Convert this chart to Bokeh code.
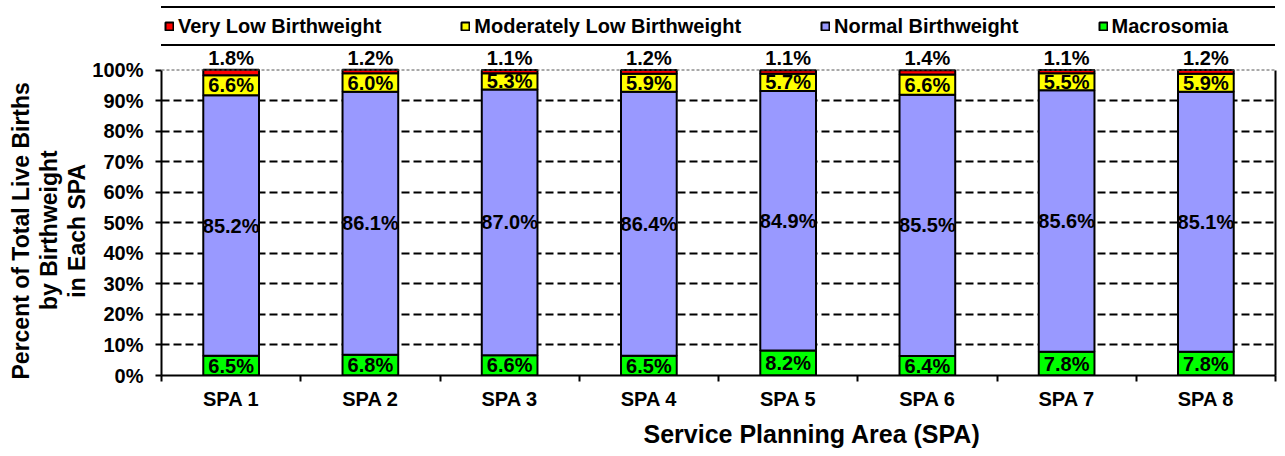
import math
from bokeh.plotting import figure
from bokeh.models import (Range1d, FixedTicker, Legend, LegendItem, LabelSet, Title,
                          ColumnDataSource, Span, LinearAxis)
from bokeh.core.properties import value
from bokeh.embed import file_html
from bokeh.resources import INLINE

# ---------------- data ----------------
spas = ["SPA 1", "SPA 2", "SPA 3", "SPA 4", "SPA 5", "SPA 6", "SPA 7", "SPA 8"]
very_low = [1.8, 1.2, 1.1, 1.2, 1.1, 1.4, 1.1, 1.2]
mod_low = [6.6, 6.0, 5.3, 5.9, 5.7, 6.6, 5.5, 5.9]
normal = [85.2, 86.1, 87.0, 86.4, 84.9, 85.5, 85.6, 85.1]
macro = [6.5, 6.8, 6.6, 6.5, 8.2, 6.4, 7.8, 7.8]
series_names = ["Very Low Birthweight", "Moderately Low Birthweight",
                "Normal Birthweight", "Macrosomia"]
series_colors = ["#FF0000", "#FFFF00", "#9999FF", "#00FF00"]
y_ticks = [0, 10, 20, 30, 40, 50, 60, 70, 80, 90, 100]
y_tick_labels = ["0%", "10%", "20%", "30%", "40%", "50%", "60%", "70%", "80%", "90%", "100%"]
x_title = "Service Planning Area (SPA)"
y_title_lines = ["Percent of Total Live Births", "by Birthweight", "in Each SPA"]

FONT = "Liberation Sans"

xs = [i + 0.5 for i in range(len(spas))]
fmt = lambda v: f"{v:.1f}%"
src = ColumnDataSource(dict(
    x=xs, spa=spas,
    macro=macro, normal=normal, mod_low=mod_low, very_low=very_low,
    y_macro=[m / 2 for m in macro],
    y_normal=[m + n / 2 for m, n in zip(macro, normal)],
    y_mod=[m + n + d / 2 for m, n, d in zip(macro, normal, mod_low)],
    y_top=[m + n + d + v for m, n, d, v in zip(macro, normal, mod_low, very_low)],
    t_macro=[fmt(v) for v in macro],
    t_normal=[fmt(v) for v in normal],
    t_mod=[fmt(v) for v in mod_low],
    t_vlow=[fmt(v) for v in very_low],
))

# plot area: 0% at y=375px, 100% at y=69.5px; the frame runs up to the top edge to hold the legend
p = figure(width=1285, height=456, x_range=Range1d(0, len(spas)), y_range=Range1d(0, 122.75),
           min_border_left=161, min_border_right=10, min_border_top=0, min_border_bottom=81,
           toolbar_location=None, output_backend="svg", outline_line_color=None,
           background_fill_color="white", border_fill_color="white")

p.xgrid.visible = False
p.ygrid.ticker = FixedTicker(ticks=y_ticks[1:-1])
p.ygrid.grid_line_color = "black"
p.ygrid.grid_line_width = 2
p.ygrid.grid_line_dash = "8 4"

rs = p.vbar_stack(["macro", "normal", "mod_low", "very_low"], x="x", width=0.4, source=src,
                  fill_color=[series_colors[3], series_colors[2], series_colors[1], series_colors[0]],
                  line_color="black", line_width=2)

p.add_layout(Span(location=100, dimension="width", line_color="#555555", line_width=1,
                  line_dash="3 2"))

# axes
xa = p.xaxis[0]
xa.ticker = FixedTicker(ticks=xs, minor_ticks=list(range(len(spas) + 1)))
xa.major_label_overrides = {x: s for x, s in zip(xs, spas)}
xa.axis_line_width = 2
xa.axis_line_color = "black"
xa.major_tick_out = 0
xa.major_tick_in = 0
xa.minor_tick_out = 6
xa.minor_tick_in = 0
xa.minor_tick_line_width = 2
xa.minor_tick_line_color = "black"
xa.major_label_standoff = 6
xa.major_label_text_font = FONT
xa.major_label_text_font_size = "20px"
xa.major_label_text_font_style = "bold"
xa.major_label_text_color = "black"

ya = p.yaxis[0]
ya.bounds = (0, 100)
ya.ticker = FixedTicker(ticks=y_ticks)
ya.major_label_overrides = {t: l for t, l in zip(y_ticks, y_tick_labels)}
ya.axis_line_width = 2
ya.axis_line_color = "black"
ya.major_tick_out = 6
ya.major_tick_in = 0
ya.major_tick_line_width = 2
ya.major_tick_line_color = "black"
ya.minor_tick_line_color = None
ya.major_label_standoff = 12
ya.major_label_text_font = FONT
ya.major_label_text_font_size = "20px"
ya.major_label_text_font_style = "bold"
ya.major_label_text_color = "black"

# right border of plot area
ra = LinearAxis(bounds=(0, 100), ticker=FixedTicker(ticks=[]), axis_line_width=2,
                axis_line_color="black", major_tick_line_color=None, minor_tick_line_color=None,
                major_label_text_font_size="0px")
p.add_layout(ra, "right")

# data labels
lab_kw = dict(source=src, x="x", text_align="center", text_font=value(FONT),
              text_font_size="20px", text_font_style="bold", text_color="black")
p.add_layout(LabelSet(y="y_macro", text="t_macro", text_baseline="middle", **lab_kw))
p.add_layout(LabelSet(y="y_normal", text="t_normal", text_baseline="middle", **lab_kw))
p.add_layout(LabelSet(y="y_mod", text="t_mod", text_baseline="middle", **lab_kw))
p.add_layout(LabelSet(y="y_top", text="t_vlow", text_baseline="alphabetic", y_offset=5, **lab_kw))

# axis titles
p.add_layout(Title(text=x_title, align="left", offset=482, standoff=10,
                   text_font=FONT, text_font_size="25px", text_font_style="bold",
                   text_color="black"), "below")
for line, off in reversed(list(zip(y_title_lines, [-4, 65.5, 77.75]))):
    p.add_layout(Title(text=line, align="left", offset=off, standoff=0,
                       text_font=FONT, text_font_size="23px", text_font_style="bold",
                       text_color="black"), "left")

# legend (boxed strip at the top)
spacer = p.scatter(x=[], y=[], fill_alpha=0, line_alpha=0)
leg_items = [LegendItem(label=n, renderers=[r])
             for n, r in zip(series_names, [rs[3], rs[2], rs[1], rs[0]])]
leg_items.append(LegendItem(label=" ", renderers=[spacer]))
leg = Legend(items=leg_items, orientation="horizontal", location=(-5, 329),
             padding=6, margin=0, spacing=79,
             glyph_width=10, glyph_height=10, label_standoff=4, label_height=24,
             border_line_color="black", border_line_width=2, border_line_alpha=1.0,
             background_fill_color="white", background_fill_alpha=1,
             label_text_font=FONT, label_text_font_size="20px", label_text_font_style="bold",
             label_text_color="black")
p.add_layout(leg)

open("out.html", "w").write(file_html(p, INLINE))
